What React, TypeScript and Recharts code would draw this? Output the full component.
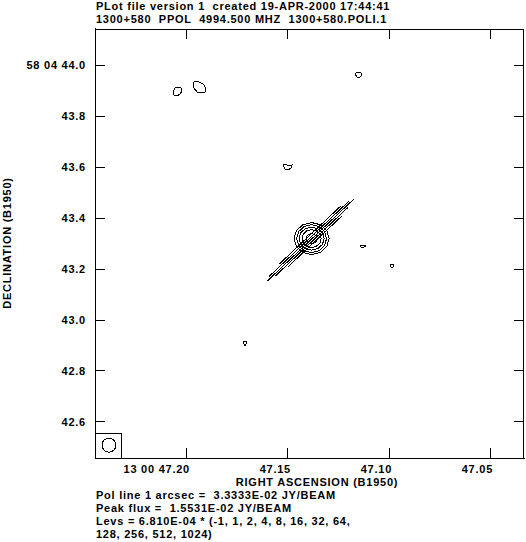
import { ScatterChart, Scatter, XAxis, YAxis, ReferenceArea, ReferenceDot } from "recharts";

// axes (RA seconds past 13h00m, Dec arcsec past 58d04m)
// plot frame, and axis domains reaching one pixel past its top and right edges
const frameRa = [47.0332, 47.2455];
const frameDec = [42.458, 44.143];
const raDomain = [47.0327, 47.2455];
const decDomain = [42.458, 44.147];
const raTicks = [47.2, 47.15, 47.1, 47.05];
const raTickLabels = ["13 00 47.20", "47.15", "47.10", "47.05"];
const decTicks = [44.0, 43.8, 43.6, 43.4, 43.2, 43.0, 42.8, 42.6];
const decTickLabels = ["58 04 44.0", "43.8", "43.6", "43.4", "43.2", "43.0", "42.8", "42.6"];
// inward tick length on the top and right edges, in axis units
const tickLenRa = 0.00495;
const tickLenDec = 0.0393;

// noise contours [ra, dec]
const blobWest: number[][] = [
  [47.2064, 43.8837], [47.2069, 43.8955], [47.2059, 43.9112], [47.2044, 43.9151],
  [47.2029, 43.9112], [47.2024, 43.8994], [47.2034, 43.8876], [47.2049, 43.8798],
  [47.2064, 43.8837],
];
const blobNorth: number[][] = [
  [47.197, 43.9308], [47.196, 43.9387], [47.194, 43.9347], [47.192, 43.9269],
  [47.1906, 43.9112], [47.191, 43.8955], [47.193, 43.8915], [47.195, 43.8955],
  [47.1965, 43.9112], [47.197, 43.9308],
];
const speck: number[][] = [[47.196, 43.6951], [47.1958, 43.6947]];
const blobNE: number[][] = [
  [47.1168, 43.9662], [47.1158, 43.9741], [47.1138, 43.9701], [47.1133, 43.9623],
  [47.1143, 43.9544], [47.1158, 43.9544], [47.1168, 43.9662],
];
const blobMid: number[][] = [
  [47.1524, 43.6087], [47.151, 43.6126], [47.15, 43.6047], [47.148, 43.6087],
  [47.1485, 43.5969], [47.15, 43.589], [47.1514, 43.5929], [47.1524, 43.6087],
];
const blobEast1: number[][] = [
  [47.1143, 43.2904], [47.1133, 43.2943], [47.1118, 43.2943], [47.1114, 43.2904],
  [47.1123, 43.2865], [47.1138, 43.2865], [47.1143, 43.2904],
];
const blobEast2: number[][] = [
  [47.0995, 43.2158], [47.0985, 43.2197], [47.0975, 43.2158], [47.098, 43.2079],
  [47.099, 43.2079], [47.0995, 43.2158],
];
const blobSouth: number[][] = [
  [47.1722, 42.9132], [47.1712, 42.9172], [47.1703, 42.9132], [47.1708, 42.9054],
  [47.1712, 42.8975], [47.1717, 42.9054], [47.1722, 42.9132],
];

// core source, levels 1, 2, 4, 8, 16
const core1: number[][] = [
  [47.147, 43.3199], [47.1458, 43.3514], [47.1426, 43.3744], [47.1383, 43.3828],
  [47.134, 43.3744], [47.1308, 43.3514], [47.1296, 43.3199], [47.1308, 43.2885],
  [47.134, 43.2654], [47.1383, 43.257], [47.1426, 43.2654], [47.1458, 43.2885],
  [47.147, 43.3199],
];
const core2: number[][] = [
  [47.1457, 43.3199], [47.1447, 43.3474], [47.142, 43.3675], [47.1383, 43.3749],
  [47.1346, 43.3675], [47.1319, 43.3474], [47.1309, 43.3199], [47.1319, 43.2924],
  [47.1346, 43.2723], [47.1383, 43.2649], [47.142, 43.2723], [47.1447, 43.2924],
  [47.1457, 43.3199],
];
const core3: number[][] = [
  [47.1445, 43.3199], [47.1437, 43.3425], [47.1414, 43.359], [47.1383, 43.3651],
  [47.1352, 43.359], [47.1329, 43.3425], [47.1321, 43.3199], [47.1329, 43.2973],
  [47.1352, 43.2808], [47.1383, 43.2747], [47.1414, 43.2808], [47.1437, 43.2973],
  [47.1445, 43.3199],
];
const core4: number[][] = [
  [47.143, 43.3199], [47.1424, 43.3376], [47.1407, 43.3505], [47.1383, 43.3553],
  [47.136, 43.3505], [47.1342, 43.3376], [47.1336, 43.3199], [47.1342, 43.3022],
  [47.136, 43.2893], [47.1383, 43.2845], [47.1407, 43.2893], [47.1424, 43.3022],
  [47.143, 43.3199],
];
const core5: number[][] = [
  [47.141, 43.3199], [47.1407, 43.3297], [47.1397, 43.3369], [47.1383, 43.3395],
  [47.1369, 43.3369], [47.1359, 43.3297], [47.1356, 43.3199], [47.1359, 43.3101],
  [47.1369, 43.3029], [47.1383, 43.3003], [47.1397, 43.3029], [47.1407, 43.3101],
  [47.141, 43.3199],
];

// polarization vectors
const polVectors: number[][][] = [
  [[47.1546, 43.2177], [47.124, 43.4468]],
  [[47.1593, 43.1714], [47.1197, 43.468]],
  [[47.1604, 43.1521], [47.1173, 43.4759]],
  [[47.1562, 43.1735], [47.1202, 43.4431]],
  [[47.1501, 43.2083], [47.1231, 43.4102]],
];

const beamCenter = [47.2386, 42.5085];
const beamBox = [47.2455, 47.2326, 42.458, 42.5557];

const titleLines = [
  "PLot file version 1  created 19-APR-2000 17:44:41",
  "1300+580  PPOL  4994.500 MHZ  1300+580.POLI.1",
];
const footerLines = [
  "Pol line 1 arcsec =  3.3333E-02 JY/BEAM",
  "Peak flux =  1.5531E-02 JY/BEAM",
  "Levs = 6.810E-04 * (-1, 1, 2, 4, 8, 16, 32, 64,",
  "128, 256, 512, 1024)",
];

// frame top/right edges and their inward ticks, built from the tick arrays
const frameEdge: number[][] = [
  [frameRa[1], frameDec[1]],
  [frameRa[0], frameDec[1]],
  [frameRa[0], frameDec[0]],
];
const topTicks = raTicks.map((t) => [
  [t, frameDec[1]],
  [t, frameDec[1] - tickLenDec],
]);
const rightTicks = decTicks.map((t) => [
  [frameRa[0], t],
  [frameRa[0] + tickLenRa, t],
]);

const contours = [
  blobWest, blobNorth, speck, blobNE, blobMid, blobEast1, blobEast2, blobSouth,
  core1, core2, core3, core4, core5, ...polVectors,
  frameEdge, ...topTicks, ...rightTicks,
];

const font = {
  fontFamily: '"Liberation Sans", Arial, sans-serif',
  fontWeight: "bold" as const,
  fontSize: 11,
  letterSpacing: 0.75,
  fill: "#000",
  whiteSpace: "pre" as const,
};

const labelFor = (ticks: number[], labels: string[], v: number) => {
  const i = ticks.findIndex((t) => Math.abs(t - v) < 1e-6);
  return i >= 0 ? labels[i] : "";
};

const RaTick = (props: any) => {
  const { x, y, payload } = props;
  return (
    <text x={x + 3} y={y} dy={10} textAnchor="end" style={font}>
      {labelFor(raTicks, raTickLabels, payload.value)}
    </text>
  );
};

const DecTick = (props: any) => {
  const { x, y, payload } = props;
  return (
    <text x={x} y={y} dy={4} textAnchor="end" style={font}>
      {labelFor(decTicks, decTickLabels, payload.value)}
    </text>
  );
};

const noShape = () => <g />;

export default function App() {
  const axisStroke = { stroke: "#000" };
  return (
    <div
      style={{
        position: "absolute",
        left: 0,
        top: 0,
        width: 526,
        height: 542,
        background: "#fff",
        shapeRendering: "crispEdges",
      }}
    >
      <ScatterChart
        width={526}
        height={542}
        margin={{ top: 28, right: 1, bottom: 54, left: 0 }}
      >
        <XAxis
          dataKey="x"
          type="number"
          domain={raDomain}
          reversed
          ticks={raTicks}
          interval={0}
          height={30}
          tickSize={-10}
          tickMargin={15}
          axisLine={axisStroke}
          tickLine={axisStroke}
          tick={<RaTick />}
        />
        <YAxis
          dataKey="y"
          type="number"
          domain={decDomain}
          ticks={decTicks}
          interval={0}
          width={95}
          tickSize={-10}
          tickMargin={19}
          axisLine={axisStroke}
          tickLine={axisStroke}
          tick={<DecTick />}
        />
        <ReferenceArea
          x1={frameRa[0]}
          x2={frameRa[1]}
          y1={frameDec[0]}
          y2={frameDec[1]}
          fill="none"
          fillOpacity={0}
          stroke="#000"
          strokeWidth={1}
          ifOverflow="visible"
        />
        {contours.map((c, i) => (
          <Scatter
            key={i}
            data={c.map(([x, y]) => ({ x, y }))}
            line={{ stroke: "#000", strokeWidth: 1 }}
            lineType="joint"
            shape={noShape}
            legendType="none"
            isAnimationActive={false}
          />
        ))}
        <ReferenceArea
          x1={beamBox[0]}
          x2={beamBox[1]}
          y1={beamBox[2]}
          y2={beamBox[3]}
          fill="none"
          fillOpacity={0}
          stroke="#000"
          strokeWidth={1}
          ifOverflow="visible"
        />
        <ReferenceDot
          x={beamCenter[0]}
          y={beamCenter[1]}
          r={7}
          fill="none"
          stroke="#000"
          strokeWidth={1}
        />
      </ScatterChart>
      <svg
        width={526}
        height={542}
        style={{ position: "absolute", left: 0, top: 0, pointerEvents: "none" }}
      >
        {titleLines.map((t, i) => (
          <text key={t} x={96} y={9.5 + i * 13.5} style={font}>
            {t}
          </text>
        ))}
        <text x={317} y={486} textAnchor="middle" style={font}>
          RIGHT ASCENSION (B1950)
        </text>
        <text
          x={0}
          y={0}
          transform="translate(10.5 243) rotate(-90)"
          textAnchor="middle"
          style={font}
        >
          DECLINATION (B1950)
        </text>
        {footerLines.map((t, i) => (
          <text key={t} x={96} y={499 + i * 13} style={font}>
            {t}
          </text>
        ))}
      </svg>
    </div>
  );
}
